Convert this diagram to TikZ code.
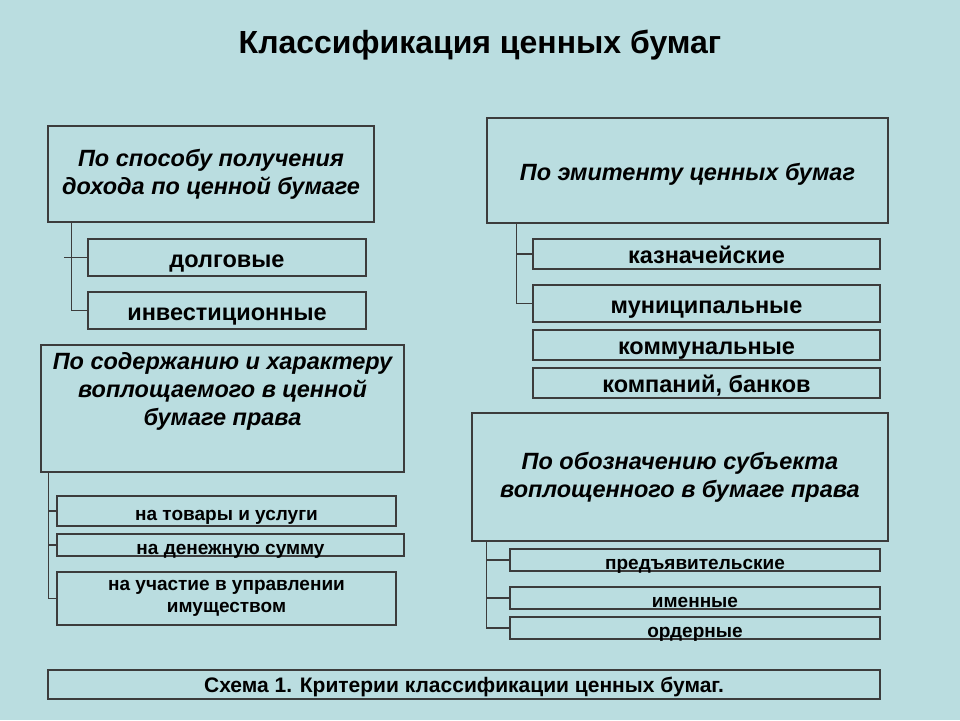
\documentclass[tikz,border=0pt]{standalone}
\usepackage{fontspec}
\setmainfont{Liberation Sans}
\usetikzlibrary{positioning}
\definecolor{bgcyan}{RGB}{186,221,224}
\definecolor{linegray}{RGB}{60,60,60}

\begin{document}
\begin{tikzpicture}[x=1pt,y=-1pt,
  every node/.style={text=black},
  head/.style={draw=linegray,line width=1.2pt,align=center,inner sep=0pt,font=\fontsize{23.5}{28}\selectfont\bfseries\itshape},
  sub/.style={draw=linegray,line width=1.2pt,align=center,inner sep=0pt,text height=19pt,text depth=0pt,font=\fontsize{23.5}{28}\selectfont\bfseries},
  small/.style={draw=linegray,line width=1.2pt,align=center,inner sep=0pt,text height=18pt,text depth=0pt,font=\fontsize{19}{22}\selectfont\bfseries},
  link/.style={draw=linegray,line width=1.2pt}
]
\fill[bgcyan] (0,0) rectangle (960,720);
\useasboundingbox (0,0) rectangle (960,720);

\node[font=\fontsize{32}{36}\selectfont\bfseries] (title) at (480,45) {Классификация ценных бумаг};

% left column
\node[head,minimum width=326pt,minimum height=96pt] (inc) at (211,174) {По способу получения\\дохода по ценной бумаге};
\node[sub,minimum width=278pt,minimum height=37pt] (debt) at (227,257.5) {долговые};
\node[sub,minimum width=278pt,minimum height=37pt] (inv) at (227,310.5) {инвестиционные};
\draw[link] (inc.south west) ++(24,0) |- (inv.west);
\draw[link] (debt.west) -- ++(-23,0);

\node[head,minimum width=363pt,minimum height=127pt] (cont) at (222.5,408.5) {};
\node[font=\fontsize{23.5}{28}\selectfont\bfseries\itshape,align=center,anchor=north,inner sep=0pt] (conttext) at (222.5,352) {По содержанию и характеру\\воплощаемого в ценной\\бумаге права};
\node[small,minimum width=339pt,minimum height=30pt] (goods) at (226.5,511) {на товары и услуги};
\node[small,minimum width=347pt,minimum height=22pt] (money) at (230.5,545) {на денежную сумму};
\node[small,minimum width=339pt,minimum height=53pt,text height=,text depth=,font=\fontsize{19}{22}\selectfont\bfseries] (share) at (226.5,598.5) {на участие в управлении\\имуществом};
\draw[link] (cont.south west) ++(8,0) |- (share.west);
\draw[link] (goods.west) -- ++(-8,0);
\draw[link] (money.west) -- ++(-8,0);

% right column
\node[head,minimum width=401pt,minimum height=105pt,text height=19pt,text depth=0pt] (iss) at (687.5,170.5) {По эмитенту ценных бумаг};
\node[sub,minimum width=347pt,minimum height=30pt] (treas) at (706.5,254) {казначейские};
\node[sub,minimum width=347pt,minimum height=37pt] (muni) at (706.5,303.5) {муниципальные};
\node[sub,minimum width=347pt,minimum height=30pt] (comm) at (706.5,345) {коммунальные};
\node[sub,minimum width=347pt,minimum height=30pt] (corp) at (706.5,383) {компаний, банков};
\draw[link] (iss.south west) ++(30,0) |- (muni.west);
\draw[link] (treas.west) -- ++(-16,0);

\node[head,minimum width=416pt,minimum height=128pt] (subj) at (680,477) {По обозначению субъекта\\воплощенного в бумаге права};
\node[small,minimum width=370pt,minimum height=22pt] (bear) at (695,560) {предъявительские};
\node[small,minimum width=370pt,minimum height=22pt] (named) at (695,598) {именные};
\node[small,minimum width=370pt,minimum height=22pt] (order) at (695,628) {ордерные};
\draw[link] (subj.south west) ++(15,0) |- (order.west);
\draw[link] (bear.west) -- ++(-23,0);
\draw[link] (named.west) -- ++(-23,0);

\node[draw=linegray,line width=1.2pt,minimum width=832pt,minimum height=29pt,inner sep=0pt,text height=15pt,text depth=0pt,font=\fontsize{21}{24}\selectfont\bfseries] (cap) at (464,684.5) {Схема 1. Критерии классификации ценных бумаг.};
\end{tikzpicture}
\end{document}
